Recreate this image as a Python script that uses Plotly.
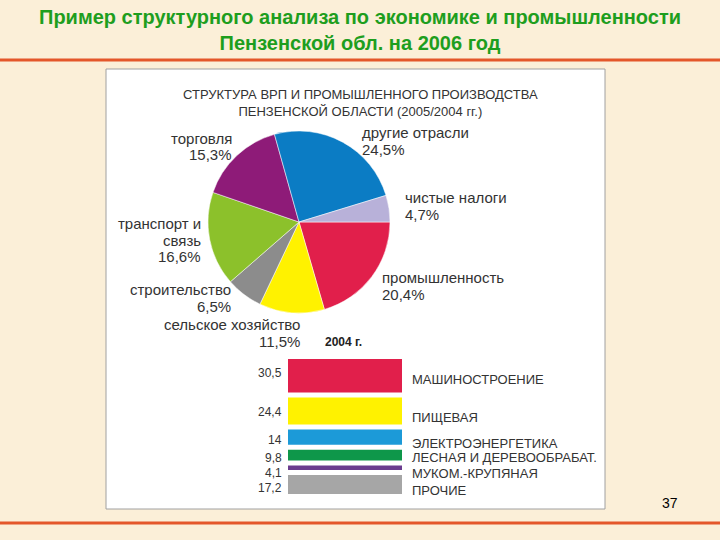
import plotly.graph_objects as go

# ---------------- data ----------------
# Pie: structure of GRP, clockwise from 3 o'clock
sectors = ["промышленность", "сельское хозяйство", "строительство",
           "транспорт и связь", "торговля", "другие отрасли", "чистые налоги"]
shares = [20.4, 11.5, 6.5, 16.6, 15.3, 24.5, 4.7]
pie_colors = ["#E11F4B", "#FFF200", "#8C8C8C", "#8CC12B", "#8E1B78", "#0B7CC4", "#B8B1D9"]

# Bars: structure of industry, 2004
industries = ["МАШИНОСТРОЕНИЕ", "ПИЩЕВАЯ", "ЭЛЕКТРОЭНЕРГЕТИКА",
              "ЛЕСНАЯ И ДЕРЕВООБРАБАТ.", "МУКОМ.-КРУПЯНАЯ", "ПРОЧИЕ"]
ind_values = [30.5, 24.4, 14, 9.8, 4.1, 17.2]
bar_colors = ["#E11F4B", "#FFF200", "#1C9AD8", "#0E974A", "#6A3C8E", "#A6A6A6"]

title_lines = ["Пример структурного анализа по экономике и промышленности",
               "Пензенской обл. на 2006 год"]
chart_title = ["СТРУКТУРА ВРП И ПРОМЫШЛЕННОГО ПРОИЗВОДСТВА",
               "ПЕНЗЕНСКОЙ ОБЛАСТИ (2005/2004 гг.)"]
year_label = "2004 г."
page_no = "37"

# ---------------- helpers ----------------
W, H = 720, 540
BG = "#FBEFD8"
def px(x): return x / W
def py(y): return 1 - y / H
def fmt(v): return f"{v:g}".replace(".", ",")

FONT = "Liberation Sans, Arial, sans-serif"
TXT = "#333333"

fig = go.Figure()

# pie
fig.add_trace(go.Pie(
    labels=sectors, values=shares, sort=False, direction="clockwise", rotation=90,
    marker=dict(colors=pie_colors, line=dict(color="white", width=0.5)),
    textinfo="none", hoverinfo="skip", showlegend=False,
    domain=dict(x=[px(208), px(390)], y=[py(313), py(131)]),
))

# bars stacked as separate blocks with small gaps
gap = 4.5
bases = []
acc = 0
for v in ind_values:
    bases.append(acc)
    acc += v + gap
total = acc - gap

fig.add_trace(go.Bar(
    x=[0] * len(ind_values), y=ind_values, base=bases, width=1,
    marker=dict(color=bar_colors, line=dict(width=0)),
    showlegend=False, hoverinfo="skip",
))

fig.update_layout(
    width=W, height=H, margin=dict(l=0, r=0, t=0, b=0),
    paper_bgcolor=BG, plot_bgcolor="rgba(0,0,0,0)",
    xaxis=dict(domain=[px(288), px(402)], range=[-0.5, 0.5], visible=False, fixedrange=True),
    yaxis=dict(domain=[py(494), py(359)], range=[total, 0], visible=False, fixedrange=True),
    barmode="overlay", hovermode=False,
)

shapes = [
    dict(type="rect", xref="paper", yref="paper", x0=px(106), x1=px(605), y0=py(509), y1=py(69),
         fillcolor="white", line=dict(color="#A0A0A0", width=1), layer="below"),
    dict(type="line", xref="paper", yref="paper", x0=0, x1=1, y0=py(60), y1=py(60),
         line=dict(color="#E4572A", width=3)),
    dict(type="line", xref="paper", yref="paper", x0=0, x1=1, y0=py(523), y1=py(523),
         line=dict(color="#E4572A", width=3)),
]
fig.update_layout(shapes=shapes)

ann = []
# main title
ann.append(dict(x=px(360), y=py(30), xref="paper", yref="paper", xanchor="center", yanchor="middle",
                text="<b>" + "<br>".join(title_lines) + "</b>", showarrow=False,
                font=dict(family="Liberation Sans Narrow, Arial Narrow, Liberation Sans, sans-serif",
                          size=20, color="#1E9E1E")))
# chart title
ann.append(dict(x=px(360), y=py(103), xref="paper", yref="paper", xanchor="center", yanchor="middle",
                text="<br>".join(chart_title), showarrow=False,
                font=dict(family=FONT, size=13, color=TXT)))

# pie labels: (x px, first-line center y px, anchor); lines spaced by LS px
LS = 17
pie_label_pos = {
    "промышленность": (380, 277, "left"),
    "сельское хозяйство": (302, 324, "right"),
    "строительство": (233, 289, "right"),
    "транспорт и связь": (203, 223, "right"),
    "торговля": (234, 138, "right"),
    "другие отрасли": (360, 132, "left"),
    "чистые налоги": (403, 197, "left"),
}
for name, val in zip(sectors, shares):
    x, y, a = pie_label_pos[name]
    lines = name.replace(" и ", " и\n").split("\n") + [fmt(val) + "%"]
    for i, line in enumerate(lines):
        ann.append(dict(x=px(x), y=py(y + i * LS), xref="paper", yref="paper", xanchor=a,
                        yanchor="middle", text=line, showarrow=False,
                        font=dict(family=FONT, size=15, color=TXT)))

ann.append(dict(x=px(323), y=py(342), xref="paper", yref="paper", xanchor="left", yanchor="middle",
                text="<b>" + year_label + "</b>", showarrow=False,
                font=dict(family=FONT, size=12, color="#222222")))

# bar labels (vertical fine-tuning of label placement, in px)
value_shift = [3, -1, -3, -3, -5, -3]
name_shift = [-4, -6, -6, -2, -6, -5.5]
for name, val, b, vs, ns in zip(industries, ind_values, bases, value_shift, name_shift):
    ann.append(dict(x=-0.5, y=b + val / 2, xref="x", yref="y", xanchor="right", yanchor="middle",
                    xshift=-4, yshift=vs, text=fmt(val), showarrow=False,
                    font=dict(family=FONT, size=12, color=TXT)))
    ann.append(dict(x=0.5, y=b + val / 2, xref="x", yref="y", xanchor="left", yanchor="middle",
                    xshift=8, yshift=ns, text=name, showarrow=False,
                    font=dict(family=FONT, size=13, color=TXT)))

ann.append(dict(x=px(670), y=py(503), xref="paper", yref="paper", xanchor="center", yanchor="middle",
                text=page_no, showarrow=False, font=dict(family=FONT, size=14, color="black")))

fig.update_layout(annotations=ann)
fig.write_html("out.html", config={"displayModeBar": False, "staticPlot": True},
               post_script="document.body.style.margin='0';document.body.style.background='%s';" % BG)
